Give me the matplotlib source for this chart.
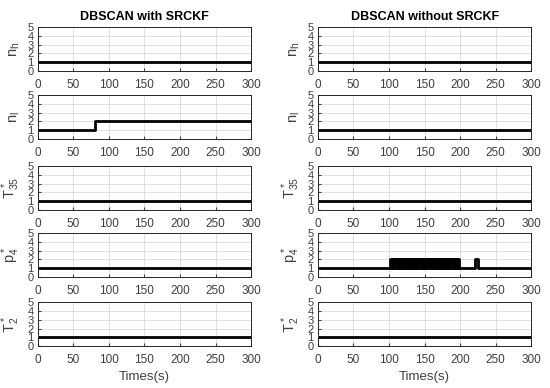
import matplotlib
matplotlib.use("Agg")
import matplotlib.pyplot as plt

plt.rcParams['font.family'] = ['Liberation Sans', 'DejaVu Sans']
plt.rcParams['mathtext.fontset'] = 'custom'
plt.rcParams['mathtext.rm'] = 'Liberation Sans'

# data (step signals: switch times and values)
titles = ["DBSCAN with SRCKF", "DBSCAN without SRCKF"]
ylabels = [r"$\mathregular{n_h}$", r"$\mathregular{n_l}$", r"$\mathregular{T^*_{35}}$",
           r"$\mathregular{p^*_4}$", r"$\mathregular{T^*_2}$"]

# left column
nh_t_L = [0, 300]
nh_v_L = [1, 1]
nl_t_L = [0, 80, 300]
nl_v_L = [1, 2, 2]
t35_t_L = [0, 300]
t35_v_L = [1, 1]
p4_t_L = [0, 300]
p4_v_L = [1, 1]
t2_t_L = [0, 300]
t2_v_L = [1, 1]

# right column
nh_t_R = [0, 300]
nh_v_R = [1, 1]
nl_t_R = [0, 300]
nl_v_R = [1, 1]
t35_t_R = [0, 300]
t35_v_R = [1, 1]
p4_t_R = [0, 101, 103, 104, 106, 107, 109, 110, 112, 113, 115, 116, 118, 119, 121,
          122, 124, 125, 127, 128, 130, 131, 133, 134, 136, 137, 139, 140, 142, 143,
          145, 146, 148, 149, 151, 152, 154, 155, 157, 158, 160, 161, 163, 164, 166,
          167, 169, 170, 172, 173, 175, 176, 178, 179, 181, 182, 184, 185, 187, 188,
          190, 191, 193, 194, 196, 197, 199, 200, 221, 225, 300]
p4_v_R = [1, 2, 1, 2, 1, 2, 1, 2, 1, 2, 1, 2, 1, 2, 1,
          2, 1, 2, 1, 2, 1, 2, 1, 2, 1, 2, 1, 2, 1, 2,
          1, 2, 1, 2, 1, 2, 1, 2, 1, 2, 1, 2, 1, 2, 1,
          2, 1, 2, 1, 2, 1, 2, 1, 2, 1, 2, 1, 2, 1, 2,
          1, 2, 1, 2, 1, 2, 1, 1, 2, 1, 1]
t2_t_R = [0, 300]
t2_v_R = [1, 1]

series = [
    [(nh_t_L, nh_v_L), (nl_t_L, nl_v_L), (t35_t_L, t35_v_L), (p4_t_L, p4_v_L), (t2_t_L, t2_v_L)],
    [(nh_t_R, nh_v_R), (nl_t_R, nl_v_R), (t35_t_R, t35_v_R), (p4_t_R, p4_v_R), (t2_t_R, t2_v_R)],
]

fig = plt.figure(figsize=(5.5, 3.88), dpi=100)
lefts = [0.0685, 0.578]
width = 0.388
bottoms = [0.817, 0.642, 0.459, 0.286, 0.108]
height = 0.113
tick_col = '#404040'

for c in range(2):
    for r in range(5):
        ax = fig.add_axes([lefts[c], bottoms[r], width, height])
        t, v = series[c][r]
        ax.plot(t, v, color='black', lw=2, drawstyle='steps-post')
        ax.set_xlim(0, 300)
        ax.set_ylim(0, 5)
        ax.set_xticks(range(0, 301, 50))
        ax.set_yticks(range(0, 6))
        ax.grid(True, color='#dcdcdc', lw=0.6)
        ax.tick_params(direction='in', length=2, labelsize=8.5, colors=tick_col)
        ax.tick_params(axis='x', pad=6)
        ax.tick_params(axis='y', pad=3, labelsize=8)
        for s in ax.spines.values():
            s.set_color('#262626')
            s.set_linewidth(0.7)
        ax.set_ylabel(ylabels[r], fontsize=10.5, color=tick_col, labelpad=4)
        if r == 0:
            ax.set_title(titles[c], fontsize=9, fontweight='bold', pad=5)
        if r == 4:
            ax.set_xlabel("Times(s)", fontsize=9.5, color=tick_col, labelpad=3)

fig.savefig("out.png", dpi=100)
